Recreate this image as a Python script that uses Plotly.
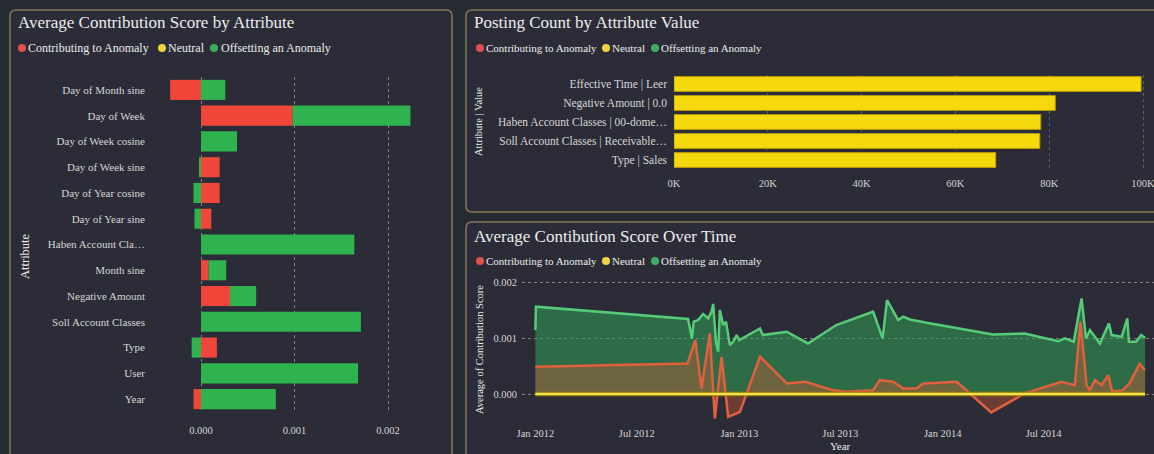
import plotly.graph_objects as go

W, H = 1154, 454

# ---------------- Data ----------------
# Panel 1: Average Contribution Score by Attribute
attributes = ["Day of Month sine", "Day of Week", "Day of Week cosine", "Day of Week sine",
              "Day of Year cosine", "Day of Year sine", "Haben Account Cla…", "Month sine",
              "Negative Amount", "Soll Account Classes", "Type", "User", "Year"]
contributing_score = [-0.00033, 0.00098, 0.0, 0.00020, 0.00020, 0.00011, 0.0, 0.00008,
                      0.00031, 0.0, 0.00017, 0.0, -0.00008]
offsetting_score = [0.00026, 0.00126, 0.000385, -0.00002, -0.00008, -0.00007, 0.00164, 0.00019,
                    0.00028, 0.00171, -0.00010, 0.00168, 0.00080]
score_ticks = [0.0, 0.001, 0.002]
score_ticktext = ["0.000", "0.001", "0.002"]

# Panel 2: Posting Count by Attribute Value
attr_values = ["Effective Time | Leer", "Negative Amount | 0.0", "Haben Account Classes | 00-dome…",
               "Soll Account Classes | Receivable…", "Type | Sales"]
posting_count = [99600, 81300, 78200, 78000, 68600]
count_ticks = [0, 20000, 40000, 60000, 80000, 100000]
count_ticktext = ["0K", "20K", "40K", "60K", "80K", "100K"]

# Panel 3: Average Contribution Score Over Time
offset_dates = ["2012-01-01", "2012-01-02", "2012-10-01", "2012-10-08", "2012-10-11", "2012-10-19",
                "2012-10-28", "2012-11-06", "2012-11-12", "2012-11-15", "2012-11-20", "2012-11-24",
                "2012-11-27", "2012-12-03", "2012-12-08", "2012-12-15", "2012-12-21", "2012-12-27",
                "2013-01-01", "2013-02-07", "2013-02-12", "2013-03-27", "2013-05-04", "2013-06-24",
                "2013-08-29", "2013-09-15", "2013-09-23", "2013-10-13", "2013-10-22", "2013-11-03",
                "2013-12-03", "2014-01-26", "2014-04-01", "2014-05-28", "2014-07-27", "2014-08-08",
                "2014-08-24", "2014-09-07", "2014-09-15", "2014-09-22", "2014-10-10", "2014-10-26",
                "2014-10-31", "2014-11-18", "2014-11-28", "2014-12-01", "2014-12-14", "2014-12-23",
                "2014-12-30"]
offset_values = [0.00115, 0.00157, 0.00135, 0.00100, 0.00130, 0.00133,
                 0.00144, 0.00136, 0.00148, 0.00162, 0.00094, 0.00076,
                 0.00151, 0.00124, 0.00130, 0.00088, 0.00094, 0.00106,
                 0.00097, 0.00118, 0.00106, 0.00112, 0.00091, 0.00124,
                 0.00148, 0.00100, 0.00169, 0.00133, 0.00139, 0.00134,
                 0.00128, 0.00118, 0.00107, 0.00109, 0.00095, 0.00100,
                 0.00094, 0.00172, 0.00100, 0.00115, 0.00091, 0.00127,
                 0.00106, 0.00103, 0.00136, 0.00094, 0.00094, 0.00106,
                 0.00101]
contrib_dates = ["2012-01-01", "2012-09-30", "2012-10-14", "2012-10-25", "2012-11-09", "2012-11-18",
                 "2012-11-30", "2012-12-12", "2013-01-02", "2013-02-07", "2013-03-27", "2013-04-29",
                 "2013-06-18", "2013-07-12", "2013-08-29", "2013-09-10", "2013-10-04", "2013-10-22",
                 "2013-11-15", "2013-11-27", "2014-01-26", "2014-03-29", "2014-05-28", "2014-08-02",
                 "2014-08-26", "2014-09-05", "2014-09-16", "2014-09-22", "2014-10-01", "2014-10-13",
                 "2014-10-25", "2014-11-01", "2014-11-20", "2014-12-02", "2014-12-20", "2014-12-30"]
contrib_values = [0.00049, 0.00055, 0.00097, 0.00010, 0.00109, -0.00044,
                  0.00067, -0.00041, -0.00032, 0.00067, 0.00019, 0.00022,
                  0.00007, 0.00004, 0.00007, 0.00025, 0.00022, 0.00010,
                  0.00010, 0.00019, 0.00022, -0.00033, 0.00001, 0.00022,
                  0.00016, 0.00130, 0.00016, 0.00007, 0.00025, 0.00016,
                  0.00034, 0.00004, 0.00007, 0.00019, 0.00054, 0.00043]
neutral_dates = ["2012-01-01", "2014-12-30"]
neutral_values = [0.0, 0.0]
time_ticks = ["2012-01-01", "2012-07-01", "2013-01-01", "2013-07-01", "2014-01-01", "2014-07-01"]
time_ticktext = ["Jan 2012", "Jul 2012", "Jan 2013", "Jul 2013", "Jan 2014", "Jul 2014"]

# ---------------- Style ----------------
FONT = "Liberation Serif"
BG = "#262a33"
PANEL = "#2b2c37"
BORDER = "#85795a"
TXT = "#ececec"
TICK = "#d6d6d6"
RED = "#f0473a"
GREEN = "#2eb34f"
YELLOW = "#f5d90c"
LEG_RED = "#e0504c"
LEG_YEL = "#f0d440"
LEG_GRN = "#3cae62"
GRID = "rgba(200,200,200,0.55)"


def fx(px):
    return px / W


def fy(py):
    return 1 - py / H


fig = go.Figure()

# Panel 1 bars
fig.add_trace(go.Bar(y=attributes, x=contributing_score, orientation="h", name="Contributing to Anomaly",
                     marker=dict(color=RED, line=dict(width=0)), xaxis="x", yaxis="y"))
fig.add_trace(go.Bar(y=attributes, x=offsetting_score, orientation="h", name="Offsetting an Anomaly",
                     marker=dict(color=GREEN, line=dict(width=0)), xaxis="x", yaxis="y"))

# Panel 2 bars
fig.add_trace(go.Bar(y=attr_values, x=posting_count, orientation="h", name="Neutral",
                     marker=dict(color=YELLOW, line=dict(color="#b89a00", width=1)),
                     xaxis="x2", yaxis="y2"))

# Panel 3 areas
fig.add_trace(go.Scatter(x=offset_dates, y=offset_values, mode="lines", fill="tozeroy",
                         line=dict(color="#56cc78", width=2.5), fillcolor="rgba(50,160,85,0.55)",
                         xaxis="x3", yaxis="y3", name="Offsetting an Anomaly"))
fig.add_trace(go.Scatter(x=contrib_dates, y=contrib_values, mode="lines", fill="tozeroy",
                         line=dict(color="#e2603e", width=2.5), fillcolor="rgba(230,90,50,0.35)",
                         xaxis="x3", yaxis="y3", name="Contributing to Anomaly"))
fig.add_trace(go.Scatter(x=neutral_dates, y=neutral_values, mode="lines",
                         line=dict(color="rgba(150,115,0,0.8)", width=5),
                         xaxis="x3", yaxis="y3", name="Neutral shadow"))
fig.add_trace(go.Scatter(x=neutral_dates, y=neutral_values, mode="lines",
                         line=dict(color="#f3e24c", width=2.5),
                         xaxis="x3", yaxis="y3", name="Neutral"))

# ---------------- Panels (shapes) ----------------
shapes = []


def panel(x0, y0, x1, y1, r=6):
    rx, ry = r / W, r / H
    X0, X1 = fx(x0), fx(x1)
    Y0, Y1 = fy(y0), fy(y1)  # Y0 top, Y1 bottom
    path = (f"M {X0+rx},{Y0} L {X1-rx},{Y0} Q {X1},{Y0} {X1},{Y0-ry} "
            f"L {X1},{Y1+ry} Q {X1},{Y1} {X1-rx},{Y1} L {X0+rx},{Y1} "
            f"Q {X0},{Y1} {X0},{Y1+ry} L {X0},{Y0-ry} Q {X0},{Y0} {X0+rx},{Y0} Z")
    shapes.append(dict(type="path", path=path, xref="paper", yref="paper",
                       fillcolor=PANEL, line=dict(color=BORDER, width=1.5), layer="below"))


panel(10, 10, 452, 480)
panel(466, 10, 1175, 212)
panel(466, 222, 1175, 480)

annotations = []


def text(px, py, s, size, color=TXT, anchor="left", angle=0):
    annotations.append(dict(x=fx(px), y=fy(py), xref="paper", yref="paper", text=s, showarrow=False,
                            xanchor=anchor, yanchor="middle", textangle=angle,
                            font=dict(family=FONT, size=size, color=color)))


def dot(px, py, color, r=4):
    shapes.append(dict(type="circle", xref="paper", yref="paper",
                       x0=fx(px - r), x1=fx(px + r), y0=fy(py + r), y1=fy(py - r),
                       fillcolor=color, line=dict(width=0)))


# Titles
text(16, 22, "Average Contribution Score by Attribute", 17)
text(472, 22, "Posting Count by Attribute Value", 17)
text(472, 236, "Average Contibution Score Over Time", 17)


def legend(py, xs, size):
    (d1, t1), (d2, t2), (d3, t3) = xs
    dot(d1, py, LEG_RED)
    text(t1, py, "Contributing to Anomaly", size)
    dot(d2, py, LEG_YEL)
    text(t2, py, "Neutral", size)
    dot(d3, py, LEG_GRN)
    text(t3, py, "Offsetting an Anomaly", size)


legend(48, [(22, 26), (162, 166), (214, 219)], 12)
legend(48, [(480, 484), (606, 610), (655, 659)], 11)
legend(261, [(480, 484), (606, 610), (655, 659)], 11)

# Axis titles
text(25, 256, "Attribute", 12.5, anchor="center", angle=-90)
text(479, 122, "Attribute | Value", 10.5, anchor="center", angle=-90)
text(479, 350, "Average of Contribution Score", 10.5, anchor="center", angle=-90)
text(840, 446, "Year", 11, anchor="center")

# ---------------- Axes ----------------
px_per_unit1 = 93.5 / 0.001
x1_left = (150 - 201) / px_per_unit1
x1_right = (440 - 201) / px_per_unit1

px_per_k = 4.69 / 1000
x2_right = (1150 - 674) / px_per_k

common_tick = dict(family=FONT, color=TICK)

fig.update_layout(
    width=W, height=H, autosize=False,
    margin=dict(l=0, r=0, t=0, b=0, pad=0, autoexpand=False),
    paper_bgcolor=BG, plot_bgcolor="rgba(0,0,0,0)",
    barmode="relative", bargap=0.22, showlegend=False,
    shapes=shapes, annotations=annotations,
    xaxis=dict(domain=[fx(150), fx(440)], range=[x1_left, x1_right], anchor="y", automargin=False,
               tickvals=score_ticks, ticktext=score_ticktext, showgrid=True, gridcolor=GRID,
               griddash="dot", gridwidth=1, zeroline=False, showline=False, ticks="",
               tickfont=dict(size=10.5, **common_tick), ticklabelstandoff=10),
    yaxis=dict(domain=[fy(412), fy(77)], anchor="x", type="category", automargin=False,
               categoryorder="array", categoryarray=attributes, autorange="reversed",
               showgrid=False, zeroline=False, showline=False, ticks="",
               tickfont=dict(size=11, **common_tick), ticklabelstandoff=4),
    xaxis2=dict(domain=[fx(674), fx(1150)], range=[0, x2_right], anchor="y2", automargin=False,
                tickvals=count_ticks, ticktext=count_ticktext, showgrid=True,
                gridcolor="rgba(170,170,170,0.4)", griddash="dot", zeroline=False, showline=False,
                ticks="", tickfont=dict(size=10.5, **common_tick), ticklabelstandoff=6,
                ticklabeloverflow="allow"),
    yaxis2=dict(domain=[fy(169.5), fy(74.5)], anchor="x2", type="category", automargin=False,
                categoryorder="array", categoryarray=attr_values, autorange="reversed",
                showgrid=False, zeroline=False, showline=False, ticks="",
                tickfont=dict(size=11.5, **common_tick), ticklabelstandoff=6),
    xaxis3=dict(domain=[fx(522), 1.0], range=["2011-12-08", "2015-01-15"], type="date",
                anchor="y3", tickvals=time_ticks, ticktext=time_ticktext, showgrid=False,
                zeroline=False, showline=False, ticks="", automargin=False,
                tickfont=dict(size=10.5, **common_tick), ticklabelstandoff=2),
    yaxis3=dict(domain=[fy(423), fy(280)], range=[-0.00052, 0.00205], anchor="x3",
                tickvals=score_ticks, ticktext=score_ticktext, showgrid=True, gridcolor=GRID,
                griddash="dot", zeroline=False, showline=False, ticks="", automargin=False,
                tickfont=dict(size=10.5, **common_tick), ticklabelstandoff=4),
)

fig.write_html("out.html", config={"displayModeBar": False},
               post_script="document.body.style.margin='0px';document.body.style.overflow='hidden';"
                           "document.documentElement.style.overflow='hidden';")
